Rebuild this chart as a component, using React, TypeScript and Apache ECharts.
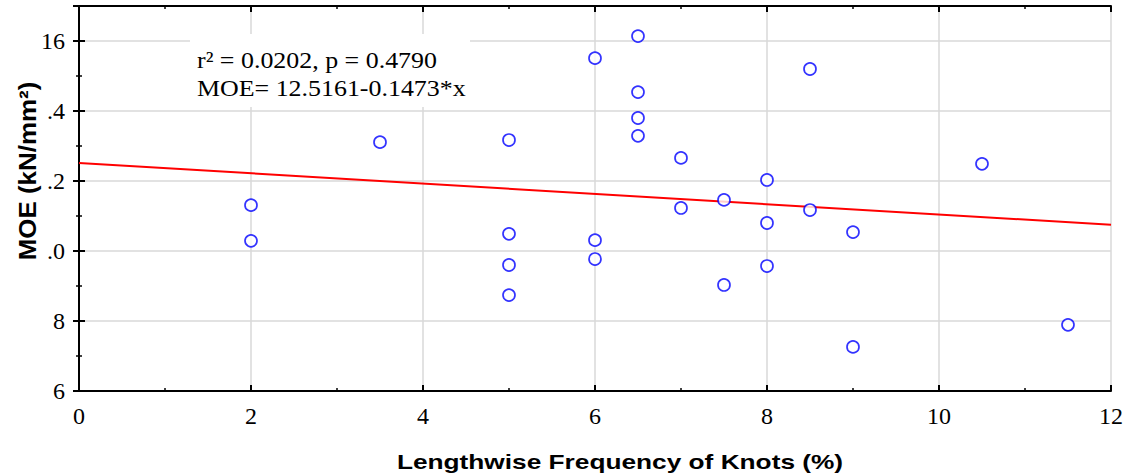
import React, { useEffect, useRef } from "react";
import * as echarts from "echarts";

// Data
const knotFrequency = [2, 2, 3.5, 5, 5, 5, 5, 6, 6, 6, 6.5, 6.5, 6.5, 6.5, 7, 7, 7.5, 7.5, 8, 8, 8, 8.5, 8.5, 9, 9, 10.5, 11.5];
const moeValues = [11.31, 10.29, 13.11, 13.17, 10.49, 9.6, 8.74, 15.51, 10.31, 9.77, 16.14, 14.54, 13.8, 13.29, 12.66, 11.23, 11.46, 9.03, 12.03, 10.8, 9.57, 15.2, 11.17, 10.54, 7.26, 12.49, 7.89];

// Regression reported in the chart
const intercept = 12.5161;
const slope = -0.1473;
const fitX = [0, 12];

// Tick labels as they appear (the left ones are clipped in the reference)
const yTickValues = [6, 8, 10, 12, 14, 16];
const yTickLabels = ["6", "8", ".0", ".2", ".4", "16"];
const xTickValues = [0, 2, 4, 6, 8, 10, 12];
const xTickLabels = ["0", "2", "4", "6", "8", "10", "12"];

const statLine1 = "r² = 0.0202, p = 0.4790";
const statLine2 = "MOE= 12.5161-0.1473*x";
const xTitle = "Lengthwise Frequency of Knots (%)";
const yTitle = "MOE (kN/mm²)";

export default function App() {
  const ref = useRef<HTMLDivElement>(null);
  useEffect(() => {
    if (!ref.current) return;
    const chart = echarts.init(ref.current, null, { renderer: "svg" });
    const serif = "'Liberation Serif', 'Times New Roman', serif";
    const sans = "'Liberation Sans', Arial, sans-serif";
    const tickCommon = {
      axisLine: { show: true, lineStyle: { color: "#000", width: 2 } },
      axisTick: { show: true, inside: true, length: 6, lineStyle: { color: "#000", width: 2 } },
      minorTick: { show: true, splitNumber: 2, length: 3, lineStyle: { color: "#000", width: 1.5 } },
    };
    const points = knotFrequency.map((x, i) => [x, moeValues[i]]);
    const fit = fitX.map((x) => [x, intercept + slope * x]);
    chart.setOption({
      animation: false,
      backgroundColor: "#fff",
      grid: { left: 79, right: 19, top: 6, bottom: 84, containLabel: false },
      xAxis: [
        {
          type: "value", min: 0, max: 12, interval: 2, position: "bottom",
          ...tickCommon,
          axisLabel: {
            show: true, margin: 13, color: "#000", fontFamily: serif, fontSize: 24,
            formatter: (v: number) => { const i = xTickValues.indexOf(v); return i >= 0 ? xTickLabels[i] : ""; },
          },
          splitLine: { show: true, lineStyle: { color: "#d9d9d9", width: 1.5 } },
        },
        {
          type: "value", min: 0, max: 12, interval: 2, position: "top",
          ...tickCommon,
          axisLabel: { show: false },
          splitLine: { show: false },
        },
      ],
      yAxis: [
        {
          type: "value", min: 6, max: 17, interval: 2, position: "left",
          ...tickCommon,
          axisLabel: {
            show: true, margin: 14, color: "#000", fontFamily: serif, fontSize: 24,
            formatter: (v: number) => { const i = yTickValues.indexOf(v); return i >= 0 ? yTickLabels[i] : ""; },
          },
          splitLine: { show: true, lineStyle: { color: "#d9d9d9", width: 1.5 } },
        },
        {
          type: "value", min: 6, max: 17, interval: 2, position: "right",
          ...tickCommon,
          axisLabel: { show: false },
          splitLine: { show: false },
        },
      ],
      graphic: [
        { type: "rect", z: 1, shape: { x: 190, y: 34, width: 280, height: 73 }, style: { fill: "#fff" } },
        {
          type: "text", z: 3, x: 197, y: 60, scaleX: 1.08,
          style: { text: statLine1, fontFamily: serif, fontSize: 24, fill: "#000", verticalAlign: "middle", align: "left" },
        },
        {
          type: "text", z: 3, x: 197, y: 88, scaleX: 1.08,
          style: { text: statLine2, fontFamily: serif, fontSize: 24, fill: "#000", verticalAlign: "middle", align: "left" },
        },
        {
          type: "text", z: 3, x: 620, y: 461, scaleX: 1.25,
          style: { text: xTitle, fontFamily: sans, fontWeight: "bold", fontSize: 21, fill: "#000", verticalAlign: "middle", align: "center" },
        },
        {
          type: "text", z: 3, x: 27, y: 171, rotation: Math.PI / 2, scaleX: 1.08,
          style: { text: yTitle, fontFamily: sans, fontWeight: "bold", fontSize: 24, fill: "#000", verticalAlign: "middle", align: "center" },
        },
      ],
      series: [
        {
          type: "line", data: fit, xAxisIndex: 0, yAxisIndex: 0, showSymbol: false, symbol: "none",
          lineStyle: { color: "#ff0000", width: 2 }, z: 2, silent: true,
        },
        {
          type: "scatter", data: points, xAxisIndex: 0, yAxisIndex: 0, symbol: "circle", symbolSize: 12,
          itemStyle: { color: "#fff", borderColor: "#0000ff", borderWidth: 1.7 }, z: 3,
        },
      ],
    });
    return () => chart.dispose();
  }, []);
  return <div ref={ref} style={{ position: "absolute", left: 0, top: 0, width: 1130, height: 475 }} />;
}
